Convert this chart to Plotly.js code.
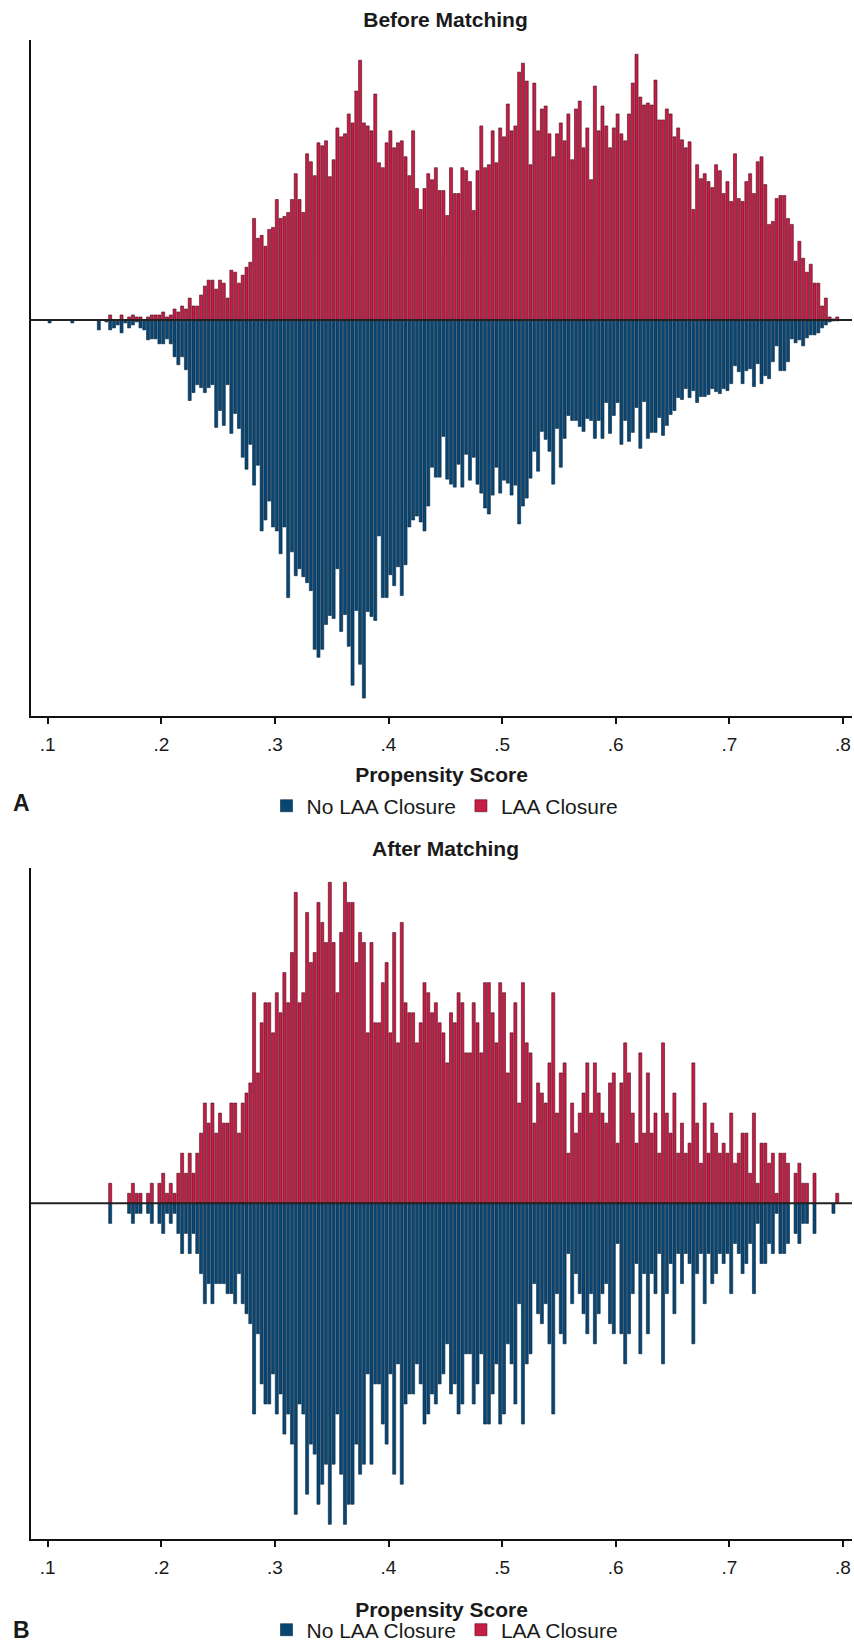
<!DOCTYPE html>
<html>
<head>
<meta charset="utf-8">
<script src="https://cdn.plot.ly/plotly-3.0.1.min.js"></script>
<style>
  html, body { margin: 0; padding: 0; background: #ffffff; }
  #chart { width: 854px; height: 1651px; }
</style>
</head>
<body>
<div id="chart"></div>
<script>
// Histogram bins of the propensity score (bin centres = BIN_START + i * BIN_WIDTH)
const BIN_START = 0.10167;
const BIN_WIDTH = 1 / 300;

const tickValues = [0.1, 0.2, 0.3, 0.4, 0.5, 0.6, 0.7, 0.8];
const tickLabels = ['.1', '.2', '.3', '.4', '.5', '.6', '.7', '.8'];

// Panel A - Before Matching (relative frequency, arbitrary units)
const beforeLAA = [
  0,0,0,0,0,0,0,0,0,0,
  0,0,0,0,0,0,5,0,0,5,
  0,3,5,3,3,0,3,5,5,5,
  8,3,5,11,8,14,11,22,14,14,
  25,34,40,40,31,40,37,22,50,48,
  37,45,53,58,102,82,85,74,91,93,
  121,102,104,108,121,147,121,108,167,159,
  145,178,175,180,144,161,193,184,187,207,
  198,230,261,198,195,190,227,158,153,178,
  190,173,178,180,164,145,190,132,111,132,
  147,141,153,130,130,105,153,127,127,153,
  150,139,110,150,195,153,156,190,158,193,
  184,217,190,195,249,258,240,156,238,190,
  212,215,187,164,187,198,180,207,161,212,
  220,173,193,141,235,190,215,195,173,193,
  207,187,180,207,238,267,224,216,218,216,
  241,201,201,212,207,184,193,181,173,179,
  111,156,142,147,139,133,156,150,127,139,
  119,167,122,119,139,147,127,159,164,136,
  96,99,122,125,125,102,96,59,79,62,
  48,56,37,37,14,22,3,1,3
];
const beforeNoLAA = [
  3,0,0,0,0,0,3,0,0,0,
  0,0,0,10,0,2,10,8,5,13,
  3,8,5,2,8,10,20,19,19,24,
  24,19,24,37,45,37,50,81,73,65,
  68,73,68,65,108,91,106,65,114,94,
  109,138,150,125,166,146,212,201,182,208,
  212,235,208,279,233,257,250,258,264,272,
  331,339,331,306,297,300,250,313,296,328,
  367,292,346,380,293,298,302,217,279,279,
  256,267,248,277,246,208,201,197,203,212,
  187,148,158,158,117,160,165,168,145,168,
  135,161,138,165,174,189,195,176,148,174,
  161,164,176,166,205,187,179,159,132,152,
  112,120,132,165,109,148,119,96,101,101,
  107,112,99,101,119,101,119,83,114,96,
  83,125,101,122,113,88,129,82,119,113,
  113,98,116,106,95,91,78,80,69,78,
  71,83,77,77,75,69,72,74,69,71,
  64,46,52,64,51,49,67,44,64,56,
  59,42,26,51,51,42,19,23,20,26,
  18,15,15,13,8,5,2,1,1
];

// Panel B - After Matching (counts per bin)
const afterLAA = [
  0,0,0,0,0,0,0,0,0,0,
  0,0,0,0,0,0,2,0,0,0,
  0,1,2,1,1,0,1,2,0,2,
  3,1,2,1,3,5,3,5,3,5,
  7,10,8,10,7,9,8,8,10,10,
  7,10,11,12,21,13,18,20,20,17,
  21,19,23,20,25,31,20,21,29,24,
  25,30,28,26,32,26,21,27,32,30,
  30,24,27,26,17,26,18,18,22,24,
  17,27,16,28,20,19,19,16,18,22,
  21,19,20,18,17,14,19,18,21,20,
  15,15,20,18,15,22,22,19,16,22,
  21,13,17,20,10,22,16,15,8,12,
  11,10,14,21,9,13,14,5,10,7,
  9,11,14,9,14,11,9,8,12,13,
  6,12,16,13,9,6,15,7,13,7,
  9,5,16,9,7,11,5,8,5,6,
  14,8,4,10,5,8,7,5,6,5,
  9,4,5,7,7,3,9,2,6,6,
  4,5,1,5,5,4,0,3,4,2,
  2,0,3,0,0,0,0,0,1
];
const afterNoLAA = [
  0,0,0,0,0,0,0,0,0,0,
  0,0,0,0,0,0,2,0,0,0,
  0,1,2,1,1,0,1,2,0,2,
  3,1,2,1,3,5,3,5,3,5,
  7,10,8,10,8,8,8,9,9,10,
  7,10,11,12,21,13,18,20,20,17,
  21,19,23,21,24,31,20,21,29,24,
  25,30,28,26,32,26,21,27,32,30,
  30,24,27,26,17,26,18,18,22,24,
  17,27,16,28,20,19,19,16,18,22,
  21,19,20,18,17,14,19,18,21,20,
  15,15,20,18,15,22,22,19,16,22,
  21,14,16,20,10,22,16,15,8,11,
  12,10,14,21,9,13,14,5,10,7,
  9,11,13,9,14,11,9,8,12,13,
  4,13,16,13,9,6,15,7,13,7,
  9,5,16,9,6,11,5,8,5,6,
  14,7,5,10,5,8,7,5,6,5,
  9,4,5,7,6,4,9,2,6,6,
  4,5,1,5,5,4,0,3,4,2,
  2,0,3,0,0,0,0,1,0
];

const BLUE = '#0a4673';
const BLUE_LINE = '#06263f';
const RED = '#c81d47';
const RED_LINE = '#4a0c1a';
const FONT = 'Liberation Sans, Arial, Helvetica, sans-serif';

const centers = beforeLAA.map((_, i) => BIN_START + i * BIN_WIDTH);
const up = arr => arr.map(v => (v > 0 ? v : null));
const down = arr => arr.map(v => (v > 0 ? -v : null));

function barTrace(values, isRed, xa, ya, legend) {
  return {
    type: 'bar',
    x: centers,
    y: isRed ? up(values) : down(values),
    width: BIN_WIDTH * 0.8,
    name: isRed ? 'LAA Closure' : 'No LAA Closure',
    marker: {
      color: isRed ? RED : BLUE,
      line: { color: isRed ? RED_LINE : BLUE_LINE, width: 0.6 }
    },
    xaxis: xa, yaxis: ya, legend: legend,
    hoverinfo: 'x+y'
  };
}

const data = [
  barTrace(beforeNoLAA, false, 'x', 'y', 'legend'),
  barTrace(beforeLAA, true, 'x', 'y', 'legend'),
  barTrace(afterNoLAA, false, 'x2', 'y2', 'legend2'),
  barTrace(afterLAA, true, 'x2', 'y2', 'legend2')
];

const H = 1651;
const py = px => 1 - px / H;           // pixel row -> paper y
const plotL = 31, plotW = 821;
const pxX = px => (px - plotL) / plotW; // pixel col -> paper x
const X_RANGE = [0.0853, 0.808];

function xAxis(anchor, standoff) {
  return {
    anchor: anchor,
    domain: [0, 1],
    range: X_RANGE,
    showline: true, linecolor: '#111', linewidth: 2,
    ticks: 'outside', ticklen: 6, tickwidth: 2, tickcolor: '#111',
    tickvals: tickValues, ticktext: tickLabels,
    tickfont: { family: FONT, size: 19, color: '#1a1a1a' },
    ticklabelstandoff: 5,
    showgrid: false, zeroline: false,
    title: { text: 'Propensity Score', standoff: standoff,
             font: { family: FONT, size: 21, color: '#1a1a1a', weight: 700 } }
  };
}
function yAxis(anchor, domain, range) {
  return {
    anchor: anchor, domain: domain, range: range,
    showline: true, linecolor: '#111', linewidth: 2,
    ticks: '', showticklabels: false, showgrid: false, zeroline: false
  };
}
function legendAt(pxRow) {
  return {
    orientation: 'h', x: pxX(445), xanchor: 'center',
    y: py(pxRow), yanchor: 'middle',
    font: { family: FONT, size: 21, color: '#1a1a1a' },
    bgcolor: 'rgba(0,0,0,0)', traceorder: 'normal',
    itemclick: false, itemdoubleclick: false
  };
}

const layout = {
  width: 854, height: H,
  margin: { l: plotL, r: 854 - plotL - plotW, t: 0, b: 0 },
  paper_bgcolor: '#ffffff', plot_bgcolor: '#ffffff',
  barmode: 'overlay',
  showlegend: true,
  font: { family: FONT, color: '#1a1a1a' },
  title: { text: 'Before Matching', xref: 'container', x: 445.5 / 854, xanchor: 'center',
           yref: 'container', y: py(19.5), yanchor: 'middle',
           font: { family: FONT, size: 21, color: '#1a1a1a', weight: 700 } },
  xaxis: xAxis('y', 13),
  yaxis: yAxis('x', [py(719), py(40)], [-397.5, 281.5]),
  xaxis2: xAxis('y2', 25),
  yaxis2: yAxis('x2', [py(1546), py(872)], [-33.41, 33.45]),
  legend: legendAt(810),
  legend2: legendAt(1638),
  shapes: [
    { type: 'line', xref: 'x domain', x0: 0, x1: 1, yref: 'y', y0: 0, y1: 0,
      line: { color: '#222', width: 2 }, layer: 'above' },
    { type: 'line', xref: 'x2 domain', x0: 0, x1: 1, yref: 'y2', y0: 0, y1: 0,
      line: { color: '#222', width: 2 }, layer: 'above' }
  ],
  annotations: [
    { text: 'After Matching', xref: 'paper', yref: 'paper', x: pxX(445), y: py(853),
      xanchor: 'center', yanchor: 'middle', showarrow: false,
      font: { family: FONT, size: 21, color: '#1a1a1a', weight: 700 } },
    { text: 'A', xref: 'paper', yref: 'paper', x: pxX(21), y: py(807),
      xanchor: 'center', yanchor: 'middle', showarrow: false,
      font: { family: FONT, size: 23, color: '#1a1a1a', weight: 700 } },
    { text: 'B', xref: 'paper', yref: 'paper', x: pxX(21), y: py(1638),
      xanchor: 'center', yanchor: 'middle', showarrow: false,
      font: { family: FONT, size: 23, color: '#1a1a1a', weight: 700 } }
  ]
};

Plotly.newPlot('chart', data, layout, { displayModeBar: false, staticPlot: true });
</script>
</body>
</html>
